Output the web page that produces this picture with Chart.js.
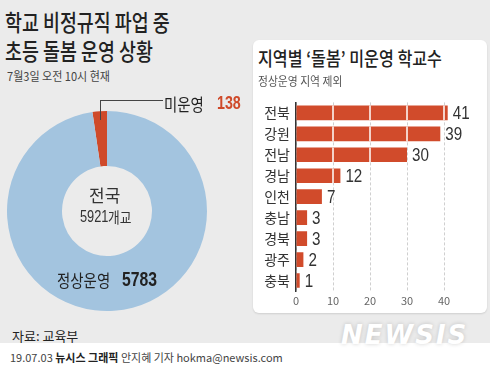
<!DOCTYPE html>
<html>
<head>
<meta charset="utf-8">
<script src="https://cdn.jsdelivr.net/npm/chart.js@4"></script>
<style>
  body { margin: 0; }
  #wrap { position: relative; width: 490px; height: 367px; background: #ebebeb; overflow: hidden;
          font-family: "Noto Sans CJK KR", sans-serif; color: #333; }
  .t { position: absolute; white-space: nowrap; transform-origin: left top; }
  .num { font-family: "Liberation Sans", Arial, sans-serif; }
  #panel { position: absolute; left: 253px; top: 40px; width: 234px; height: 273px; background: #fff;
           border-radius: 6px; box-shadow: 0 1px 2px rgba(0,0,0,0.12); }
  #foot { position: absolute; left: 0; top: 343px; width: 490px; height: 24px; background: #fff; }
</style>
</head>
<body>
<div id="wrap">
  <div class="t" style="left:5px;top:4px;font-size:23px;font-weight:500;color:#222;transform:scaleX(0.8)">학교 비정규직 파업 중</div>
  <div class="t" style="left:5px;top:33px;font-size:23px;font-weight:500;color:#222;transform:scaleX(0.8)">초등 돌봄 운영 상황</div>
  <div class="t" style="left:7px;top:67px;font-size:12px;color:#444;transform:scaleX(0.92)">7월3일 오전 10시 현재</div>

  <canvas id="donut" width="200" height="200" style="position:absolute;left:7px;top:111px"></canvas>
  <div style="position:absolute;left:100px;top:100px;width:62px;height:19px;border-left:1px solid #444;border-top:1px solid #444"></div>
  <div class="t" style="left:164px;top:91px;font-size:17px;color:#222;transform:scaleX(0.85)">미운영</div>
  <div class="t num" style="left:217px;top:92px;font-size:19px;font-weight:bold;color:#cf4a2a;transform:scaleX(0.75)">138</div>
  <div class="t" style="left:89px;top:182px;font-size:17px;color:#333">전국</div>
  <div class="t num" style="left:80px;top:208px;font-size:16px;color:#333;transform:scaleX(0.8)">5921</div>
  <div class="t" style="left:108px;top:206px;font-size:15px;color:#333;transform:scaleX(0.85)">개교</div>
  <div class="t" style="left:57px;top:267px;font-size:17px;color:#222;transform:scaleX(0.85)">정상운영</div>
  <div class="t num" style="left:122px;top:267px;font-size:21px;font-weight:bold;color:#222;transform:scaleX(0.75)">5783</div>

  <div id="panel"></div>
  <div class="t" style="left:258px;top:44px;font-size:19px;font-weight:500;color:#222;transform:scaleX(0.85)">지역별 ‘돌봄’ 미운영 학교수</div>
  <div class="t" style="left:258px;top:72px;font-size:12px;color:#555;transform:scaleX(0.9)">정상운영 지역 제외</div>
  <canvas id="bars" width="234" height="222" style="position:absolute;left:253px;top:88px"></canvas>

  <div class="t" style="left:12px;top:326px;font-size:13px;color:#222">자료: 교육부</div>
  <div id="foot"></div>
  <div class="t" style="left:10px;top:349px;font-size:11px;color:#444">19.07.03 <b style="color:#222">뉴시스 그래픽</b> 안지혜 기자 hokma@newsis.com</div>
  <div class="t" style="left:341px;top:320px;font-family:'DejaVu Sans',sans-serif;font-size:26px;font-weight:bold;font-style:italic;color:#fff;letter-spacing:2px;text-shadow:0 0 4px rgba(0,0,0,0.18)">NEWSIS</div>
</div>

<script>
// donut: schools running / not running care classes
const donutLabels = ['미운영', '정상운영'];
const donutValues = [138, 5783];

// bar: schools not running by region
const regions = ['전북', '강원', '전남', '경남', '인천', '충남', '경북', '광주', '충북'];
const counts = [41, 39, 30, 12, 7, 3, 3, 2, 1];
const xTicks = [0, 10, 20, 30, 40];

const total = donutValues[0] + donutValues[1];

new Chart(document.getElementById('donut'), {
    type: 'doughnut',
    data: {
        labels: donutLabels,
        datasets: [{
            data: donutValues,
            backgroundColor: ['#cf4a2a', '#a3c4df'],
            borderWidth: 0
        }]
    },
    options: {
        responsive: false,
        animation: false,
        cutout: '45%',
        rotation: -donutValues[0] / total * 360, // red slice ends at 12 o'clock
        plugins: { legend: { display: false }, tooltip: { enabled: false } }
    }
});

// white separators across bars at every grid step + condensed value labels
const barExtras = {
    id: 'barExtras',
    afterDatasetsDraw(chart) {
        const ctx = chart.ctx;
        const xs = chart.scales.x;
        const meta = chart.getDatasetMeta(0);
        ctx.save();
        meta.data.forEach((bar, i) => {
            const v = counts[i];
            const h = bar.height;
            ctx.strokeStyle = '#fff';
            ctx.lineWidth = 1.5;
            xTicks.forEach(t => {
                if (t > 0 && v > t) {
                    const x = xs.getPixelForValue(t);
                    ctx.beginPath();
                    ctx.moveTo(x, bar.y - h / 2);
                    ctx.lineTo(x, bar.y + h / 2);
                    ctx.stroke();
                }
            });
            ctx.save();
            ctx.translate(bar.x + 5, bar.y + 1);
            ctx.scale(0.8, 1);
            ctx.fillStyle = '#333';
            ctx.font = '19px "Liberation Sans", Arial, sans-serif';
            ctx.textBaseline = 'middle';
            ctx.fillText(v, 0, 0);
            ctx.restore();
        });
        ctx.restore();
    }
};

new Chart(document.getElementById('bars'), {
    type: 'bar',
    data: {
        labels: regions,
        datasets: [{
            data: counts,
            backgroundColor: '#d14b2b',
            borderWidth: 0,
            categoryPercentage: 1,
            barPercentage: 0.7
        }]
    },
    plugins: [barExtras],
    options: {
        indexAxis: 'y',
        responsive: false,
        animation: false,
        layout: { padding: { top: 8, right: 24.5, left: 0, bottom: 0 } },
        scales: {
            x: {
                min: 0,
                max: 45,
                afterBuildTicks: s => { s.ticks = xTicks.map(v => ({ value: v })); },
                afterFit: s => { s.height = 19; },
                grid: { color: '#cfcfcf', drawTicks: false },
                border: { display: false, dash: [3, 2] },
                ticks: { padding: 3, color: '#666', font: { size: 11, family: 'Noto Sans CJK KR' } }
            },
            y: {
                afterFit: s => { s.width = 43; },
                grid: { display: false, drawTicks: false },
                border: { display: true, color: '#333', width: 1.5 },
                ticks: { padding: 6, color: '#333', font: { size: 14, family: 'Noto Sans CJK KR' } }
            }
        },
        plugins: { legend: { display: false }, tooltip: { enabled: false } }
    }
});
</script>
</body>
</html>
